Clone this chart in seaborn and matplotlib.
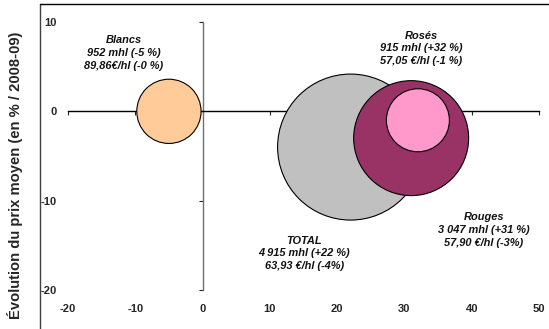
import matplotlib
matplotlib.use("Agg")
import matplotlib.pyplot as plt
import seaborn as sns
import pandas as pd
from matplotlib.lines import Line2D

# Wine categories: volume change (%), price change (%), volume (mhl)
categories = ["TOTAL", "Rouges", "Rosés", "Blancs"]
volume_change = [22, 31, 32, -5]
price_change = [-4, -3, -1, 0]
volume_mhl = [4915, 3047, 915, 952]
price_eur = ["63,93 €/hl (-4%)", "57,90 €/hl (-3%)", "57,05 €/hl (-1 %)", "89,86€/hl (-0 %)"]
volume_text = ["4 915 mhl (+22 %)", "3 047 mhl (+31 %)", "915 mhl (+32 %)", "952 mhl (-5 %)"]
colors = ["#C0C0C0", "#993366", "#FF99CC", "#FFCC99"]

xticks = [-20, -10, 0, 10, 20, 30, 40, 50]
yticks = [-20, -10, 0, 10]

sns.set_style("white")
plt.rcParams["font.family"] = ["Liberation Sans", "DejaVu Sans"]

df = pd.DataFrame({
    "cat": categories,
    "vol": volume_change,
    "prix": price_change,
    "mhl": volume_mhl,
})

fig = plt.figure(figsize=(5.49, 3.29), dpi=100)
ax = fig.add_axes([68 / 549, 39 / 329, 471 / 549, 268 / 329])

max_area = (146 * 0.72) ** 2
sns.scatterplot(
    data=df, x="vol", y="prix", hue="cat", size="mhl",
    palette=dict(zip(categories, colors)),
    sizes=(0, max_area), size_norm=(0, max(volume_mhl)),
    edgecolor="black", linewidth=0.8, alpha=1, legend=False, ax=ax, zorder=3,
)

ax.set_xlim(-20, 50)
ax.set_ylim(-20, 10)
ax.set_xlabel("")
ax.set_ylabel("")

# Axes crossing at the origin
ax.spines["left"].set_position(("data", 0))
ax.spines["bottom"].set_position(("data", 0))
ax.spines["left"].set_color("#707070")
ax.spines["bottom"].set_color("black")
for s in ["left", "bottom"]:
    ax.spines[s].set_linewidth(1.0)
    ax.spines[s].set_zorder(2)
ax.spines["top"].set_visible(False)
ax.spines["right"].set_visible(False)
ax.set_xticks(xticks)
ax.set_yticks(yticks)
ax.tick_params(axis="both", direction="out", length=3, width=0.8,
               labelbottom=False, labelleft=False, bottom=True, left=True)

# Tick labels at the low edge of the plot area
secx = ax.secondary_xaxis(0)
secx.set_xticks(xticks)
secx.set_xticklabels([str(t) for t in xticks], fontsize=8, fontweight="bold")
secx.tick_params(length=0, pad=10)
secy = ax.secondary_yaxis(0)
secy.set_yticks(yticks)
secy.set_yticklabels([str(t) for t in yticks], fontsize=8, fontweight="bold")
secy.tick_params(length=0, pad=8)
for sec in (secx, secy):
    for sp in sec.spines.values():
        sp.set_visible(False)

# Bubble annotations
label_pos = {"Blancs": (-11.7, 6.5), "Rosés": (32.5, 7.05),
             "Rouges": (41.8, -13.3), "TOTAL": (15.1, -15.9)}
for c, vt, pt in zip(categories, volume_text, price_eur):
    x, y = label_pos[c]
    ax.text(x, y, f"{c}\n{vt}\n{pt}", ha="center", va="center",
            fontsize=7.9, fontweight="bold", fontstyle="italic",
            linespacing=1.35, color="#111111", zorder=5)

fig.text(15 / 549, 1 - 175 / 329, "Évolution du prix moyen (en % / 2008-09)",
         rotation=90, ha="center", va="center", fontsize=10.6, fontweight="bold")

# Chart area frame
fig.add_artist(Line2D([40 / 549, 40 / 549], [0, 1 - 4 / 329],
                      transform=fig.transFigure, color="#404040", lw=1.0))
fig.add_artist(Line2D([40 / 549, 1], [1 - 4 / 329, 1 - 4 / 329],
                      transform=fig.transFigure, color="black", lw=1.0))

fig.savefig("out.png", dpi=100)
